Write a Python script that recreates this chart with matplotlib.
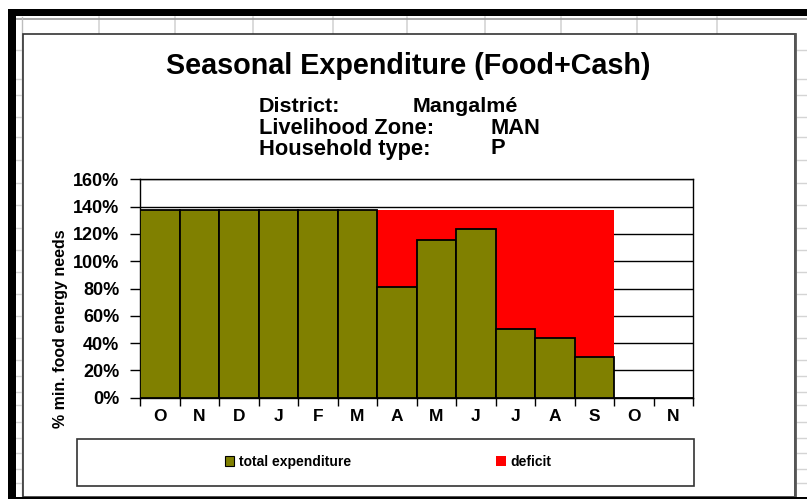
import matplotlib
matplotlib.use("Agg")
import matplotlib.pyplot as plt
from matplotlib.patches import Rectangle, Patch
from matplotlib.lines import Line2D
import numpy as np

# ---------------- data ----------------
months = ['O', 'N', 'D', 'J', 'F', 'M', 'A', 'M', 'J', 'J', 'A', 'S', 'O', 'N']
total_expenditure = [137.5, 137.5, 137.5, 137.5, 137.5, 137.5, 81, 115.5, 123.5, 50, 43.5, 29.5, 0, 0]
deficit = [0, 0, 0, 0, 0, 0, 56.5, 22, 14, 87.5, 94, 108, 0, 0]
yticks = [0, 20, 40, 60, 80, 100, 120, 140, 160]
title = "Seasonal Expenditure (Food+Cash)"
info_labels = ["District:", "Livelihood Zone:", "Household type:"]
info_values = ["Mangalmé", "MAN", "P"]
ylabel = "% min. food energy needs"
legend_labels = ["total expenditure", "deficit"]

OLIVE = "#808000"
RED = "#FF0000"
FONT = ["Liberation Sans", "DejaVu Sans"]
plt.rcParams['font.family'] = FONT
plt.rcParams['font.weight'] = 'bold'

W, H = 807, 499
fig = plt.figure(figsize=(W / 100, H / 100), dpi=100)
fig.patch.set_facecolor("white")

def fx(x):
    return x / W

def fy(y):
    return 1 - y / H

BG = dict(transform=fig.transFigure, zorder=-10)

# ---------------- spreadsheet background ----------------
GRID = "#d4d4d4"
for xx in [99, 175, 253, 333, 407, 485, 561, 637, 717]:
    fig.add_artist(Line2D([fx(xx), fx(xx)], [fy(17), fy(34)], color=GRID, lw=1.2, **BG))
fig.add_artist(Line2D([fx(16), fx(807)], [fy(19), fy(19)], color="#9a9a9a", lw=1.2, **BG))
fig.add_artist(Line2D([fx(22), fx(22)], [fy(17), fy(499)], color="#bdbdbd", lw=1.0, **BG))
for yy in [50, 79, 95, 117, 137, 160, 183, 205, 228, 250, 272, 294, 316, 338, 360, 376, 392, 405, 422, 438, 453, 469, 483]:
    fig.add_artist(Line2D([fx(16), fx(22)], [fy(yy), fy(yy)], color=GRID, lw=1.0, **BG))
    fig.add_artist(Line2D([fx(797), fx(807)], [fy(yy), fy(yy)], color=GRID, lw=1.0, **BG))

# chart area
fig.add_artist(Rectangle((fx(23), fy(497)), fx(795) - fx(23), fy(34) - fy(497),
                         facecolor="white", edgecolor="#333333", lw=1.2, **BG))
fig.add_artist(Line2D([fx(795), fx(795)], [fy(34), fy(499)], color="#555555", lw=2.0, **BG))

# thick black frame
fig.add_artist(Rectangle((fx(8), fy(16)), fx(807) - fx(8), fy(9) - fy(16),
                         facecolor="black", edgecolor="none", **BG))
fig.add_artist(Rectangle((fx(8), fy(499)), fx(16) - fx(8), fy(9) - fy(499),
                         facecolor="black", edgecolor="none", **BG))
fig.add_artist(Rectangle((fx(16), fy(499)), fx(807) - fx(16), fy(497) - fy(499),
                         facecolor="black", edgecolor="none", **BG))

# legend box
fig.add_artist(Rectangle((fx(77), fy(486)), fx(694) - fx(77), fy(439) - fy(486),
                         facecolor="white", edgecolor="#333333", lw=1.2, transform=fig.transFigure, zorder=-5))

# ---------------- plot axes ----------------
ax_l, ax_r, ax_t, ax_b = 140, 693, 179.3, 397.7
ax = fig.add_axes([fx(ax_l), fy(ax_b), fx(ax_r) - fx(ax_l), fy(ax_t) - fy(ax_b)])
ax.set_facecolor("white")
x = np.arange(len(months))
ax.bar(x, total_expenditure, width=1.0, color=OLIVE, edgecolor="black", linewidth=1.3, zorder=3)
ax.bar(x, deficit, width=1.0, bottom=total_expenditure, color=RED, edgecolor="none", zorder=2)
ax.set_xlim(-0.5, len(months) - 0.5)
ax.set_ylim(0, 160)
ax.set_yticks(yticks)
ax.set_yticklabels([f"{v}%" for v in yticks])
ax.yaxis.grid(True, color="black", lw=1.0, zorder=1)
ax.set_axisbelow(True)
ax.set_xticks(np.arange(len(months) + 1) - 0.5)
ax.set_xticklabels([])
ax.set_xticks(x, minor=True)
ax.set_xticklabels(months, minor=True)
ax.tick_params(axis='x', which='major', length=6, width=1.0, direction='out', color='black')
ax.tick_params(axis='x', which='minor', length=0, pad=8, labelsize=12.5)
ax.tick_params(axis='y', length=7, width=1.0, direction='out', pad=8, labelsize=13)
for s in ax.spines.values():
    s.set_color("black")
    s.set_linewidth(1.0)
for lab in ax.get_xticklabels(minor=True) + ax.get_yticklabels():
    lab.set_fontweight('bold')

ax.set_ylabel(ylabel, fontsize=11.5, fontweight='bold', va='center')
ax.yaxis.set_label_coords(fx(61), fy(329), transform=fig.transFigure)

# ---------------- texts ----------------
renderer = fig.canvas.get_renderer()

def fit(t, target_px, squeeze=1.0):
    w = t.get_window_extent(renderer).width
    t.set_fontsize(t.get_fontsize() * target_px / w * squeeze)

tt = fig.text(fx(408.5), fy(66), title, ha='center', va='center', fontsize=15, fontweight='bold')
fit(tt, 497, 0.98)

rows_y = [106, 128, 149]
lab_w = [87, 187, 184]
val_x = [413, 490, 490]
for i in range(3):
    t1 = fig.text(fx(259), fy(rows_y[i]), info_labels[i], ha='left', va='center', fontsize=12, fontweight='bold')
    fit(t1, lab_w[i], 0.93)
    fig.text(fx(val_x[i]), fy(rows_y[i]), info_values[i], ha='left', va='center',
             fontsize=t1.get_fontsize(), fontweight='bold')

# ---------------- legend ----------------
handles = [Patch(facecolor=OLIVE, edgecolor="black", lw=0.8), Patch(facecolor=RED, edgecolor="none")]
leg = fig.legend(handles, legend_labels, loc='center', bbox_to_anchor=(fx(388), fy(462)), ncol=2,
                 frameon=False, prop={'family': FONT, 'weight': 'bold', 'size': 10},
                 handlelength=0.7, handleheight=0.7, handletextpad=0.3, columnspacing=10.5)

fig.savefig("out.png", dpi=100)
